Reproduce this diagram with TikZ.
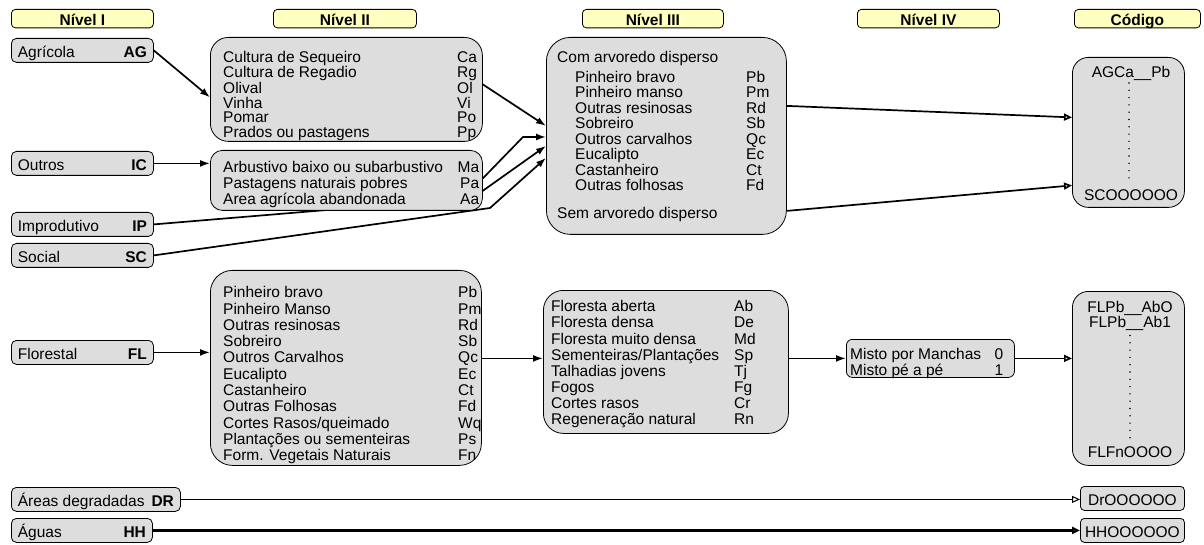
\documentclass[tikz,border=0pt]{standalone}
\usepackage{fontspec}
\setmainfont{Liberation Sans}
\usetikzlibrary{arrows.meta,calc,backgrounds}

\definecolor{hdrfill}{RGB}{255,255,192}
\definecolor{boxfill}{RGB}{221,221,221}

\newcommand\basefont{\fontsize{15.5pt}{15.5pt}\selectfont}
\newdimen\lnamew
\newdimen\lpitch
\newdimen\lcodew
% one line of a list: name in a fixed-width slot, code after it
\newcommand\rowl[2]{\hbox{\vrule width0pt height12pt depth\dimexpr\lpitch-12pt\relax\hbox to\lnamew{#1\hfil}#2}}
% same, with the code right-aligned in its own slot
\newcommand\rowr[2]{\hbox{\vrule width0pt height12pt depth\dimexpr\lpitch-12pt\relax\hbox to\lnamew{#1\hfil}\hbox to\lcodew{\hfil#2}}}
\newcommand\lst[3]{\vbox{\offinterlineskip\lpitch=#1\lnamew=#2\relax #3}}

\tikzset{
  hdr/.style={draw, fill=hdrfill, rounded corners=4pt, line width=0.8pt,
    minimum height=18.5pt, inner sep=0pt, anchor=north west,
    font=\basefont\bfseries, text height=15pt, text depth=1pt},
  lvl/.style={draw, fill=boxfill, rounded corners=5pt, line width=0.8pt,
    minimum width=142pt, minimum height=24pt, inner sep=0pt, anchor=north west,
    text height=15pt, text depth=1pt},
  panel/.style={draw, fill=boxfill, line width=0.8pt, inner sep=0pt, anchor=north west},
  list/.style={inner sep=0pt, anchor=north west},
  code/.style={inner sep=0pt, anchor=base},
  feed/.style={-{Latex[length=10pt,width=7pt]}, line width=1.7pt},
  into/.style={-{Triangle[open,length=8pt,width=7pt]}, line width=1.7pt},
  dotcol/.style={line width=1.6pt, line cap=round, dash pattern=on 0pt off 7.3pt},
}

\begin{document}
\begin{tikzpicture}[x=1pt, y=-1pt, font=\basefont]
\useasboundingbox (0,0) rectangle (1204,545);

% column headers
\node[hdr, minimum width=142pt] (h1) at (11,9)   {Nível I};
\node[hdr, minimum width=143pt] (h2) at (273,9)  {Nível II};
\node[hdr, minimum width=141pt] (h3) at (582,9)  {Nível III};
\node[hdr, minimum width=142pt] (h4) at (857,9)  {Nível IV};
\node[hdr, minimum width=126pt] (h5) at (1074,9) {Código};

% level I classes
\node[lvl] (ag) at (11,38)  {\hbox to129pt{Agrícola\hfil\textbf{AG}}};
\node[lvl] (ic) at (11,151) {\hbox to129pt{Outros\hfil\textbf{IC}}};
\node[lvl] (ip) at (11,212) {\hbox to129pt{Improdutivo\hfil\textbf{IP}}};
\node[lvl] (sc) at (11,243) {\hbox to129pt{Social\hfil\textbf{SC}}};
\node[lvl] (fl) at (11,340) {\hbox to129pt{Florestal\hfil\textbf{FL}}};
\node[lvl, minimum width=169pt] (dr) at (11,487) {\hbox to156pt{Áreas degradadas\hfil\textbf{DR}}};
\node[lvl, minimum width=141pt] (hh) at (11,518) {\hbox to128pt{Águas\hfil\textbf{HH}}};

% level II panels
\node[panel, rounded corners=18pt, minimum width=272pt, minimum height=104pt] (n2a) at (210,37) {};
\node[list] (n2a-l) at (223,50.5) {\lst{14.9pt}{234pt}{%
  \rowl{Cultura de Sequeiro}{Ca}
  \rowl{Cultura de Regadio}{Rg}
  \rowl{Olival}{Ol}
  \rowl{Vinha}{Vi}
  \rowl{Pomar}{Po}
  \rowl{Prados ou pastagens}{Pp}}};

\node[panel, rounded corners=12pt, minimum width=272pt, minimum height=60pt] (n2b) at (210,150) {};
\node[list] (n2b-l) at (223,160) {\lst{16pt}{234pt}{\lcodew=22pt
  \rowr{Arbustivo baixo ou subarbustivo}{Ma}
  \rowr{Pastagens naturais pobres}{Pa}
  \rowr{Area agrícola abandonada}{Aa}}};

\node[panel, rounded corners=22pt, minimum width=271pt, minimum height=195pt] (n2c) at (210,270) {};
\node[list] (n2c-l) at (223,285.5) {\lst{16.3pt}{235pt}{%
  \rowl{Pinheiro bravo}{Pb}
  \rowl{Pinheiro Manso}{Pm}
  \rowl{Outras resinosas}{Rd}
  \rowl{Sobreiro}{Sb}
  \rowl{Outros Carvalhos}{Qc}
  \rowl{Eucalipto}{Ec}
  \rowl{Castanheiro}{Ct}
  \rowl{Outras Folhosas}{Fd}
  \rowl{Cortes Rasos/queimado}{Wq}
  \rowl{Plantações ou sementeiras}{Ps}
  \rowl{Form. Vegetais Naturais}{Fn}}};

% level III panels
\node[panel, rounded corners=24pt, minimum width=240pt, minimum height=197pt] (n3a) at (546,37) {};
\node[list] (n3a-l) at (557,50.5) {\lst{15.47pt}{189pt}{%
  \rowl{Com arvoredo disperso}{}\vskip4.3pt
  \rowl{\hspace*{18pt}Pinheiro bravo}{Pb}
  \rowl{\hspace*{18pt}Pinheiro manso}{Pm}
  \rowl{\hspace*{18pt}Outras resinosas}{Rd}
  \rowl{\hspace*{18pt}Sobreiro}{Sb}
  \rowl{\hspace*{18pt}Outros carvalhos}{Qc}
  \rowl{\hspace*{18pt}Eucalipto}{Ec}
  \rowl{\hspace*{18pt}Castanheiro}{Ct}
  \rowl{\hspace*{18pt}Outras folhosas}{Fd}\vskip12.3pt
  \rowl{Sem arvoredo disperso}{}}};

\node[panel, rounded corners=20pt, minimum width=245pt, minimum height=143pt] (n3b) at (543,290) {};
\node[list] (n3b-l) at (551,299.5) {\lst{16.15pt}{183pt}{%
  \rowl{Floresta aberta}{Ab}
  \rowl{Floresta densa}{De}
  \rowl{Floresta muito densa}{Md}
  \rowl{Sementeiras/Plantações}{Sp}
  \rowl{Talhadias jovens}{Tj}
  \rowl{Fogos}{Fg}
  \rowl{Cortes rasos}{Cr}
  \rowl{Regeneração natural}{Rn}}};

% level IV panel
\node[panel, rounded corners=6pt, minimum width=168pt, minimum height=38pt] (n4) at (846,339) {};
\node[list] (n4-l) at (850,347.5) {\lst{15.5pt}{140pt}{\lcodew=13pt
  \rowr{Misto por Manchas}{0}
  \rowr{Misto pé a pé}{1}}};

% code panels
\node[panel, rounded corners=16pt, minimum width=112pt, minimum height=150pt] (c1) at (1072,57) {};
\node[code] (c1top) at (1131,77.5)  {AGCa\_\_Pb};
\node[code] (c1bot) at (1131,200.5) {SCOOOOOO};
\draw[dotcol] ([shift={(-2pt,-5.5pt)}]c1top.base) -- ([shift={(-2pt,15.5pt)}]c1bot.base);

\node[panel, rounded corners=16pt, minimum width=112pt, minimum height=174pt] (c2) at (1072,291) {};
\node[code] (c2a) at (1130,312)   {FLPb\_\_AbO};
\node[code] (c2b) at (1130,327.5) {FLPb\_\_Ab1};
\node[code] (c2c) at (1130,457)   {FLFnOOOO};
\draw[dotcol] ([shift={(0pt,-8pt)}]c2b.base) -- ([shift={(0pt,15pt)}]c2c.base);

\node[panel, rounded corners=4pt, minimum width=104pt, minimum height=24pt,
      text height=15pt, text depth=1pt] (cdr) at (1080,486) {DrOOOOOO};
\node[panel, rounded corners=4pt, minimum width=104pt, minimum height=24pt,
      text height=15pt, text depth=1pt] (chh) at (1080,518) {HHOOOOOO};

% connectors
\coordinate (kb)   at (523,137);
\coordinate (kip1) at (375,206);
\coordinate (kip2) at (460,207);
\coordinate (ksc)  at (490,208);
\coordinate (n3bin) at ([yshift=3.5pt]n3b.west);

% page ground, and the two lines that run behind the shrub panel
\begin{pgfonlayer}{background}
  \fill[white] (0,0) rectangle (1204,545);
  \draw[feed] (ip.east) -- (kip1) -- (kip2) -- ([yshift=-10pt]n3a.west);
  \draw[feed] (sc.east) -- (ksc) -- ([yshift=-22pt]n3a.west);
\end{pgfonlayer}

\draw[feed] (ag.east) -- ([yshift=-8pt]n2a.west);
\draw[feed] (ic.east) -- (ic.east -| n2b.west);
\draw[feed] ([yshift=5pt]n2a.east) -- ([yshift=10pt]n3a.west);
\draw[feed] ([yshift=2pt]n2b.east) -- (kb) -- (kb -| n3a.west);

\draw[into] ([yshift=30pt]n3a.east) -- ([yshift=15pt]c1.west);
\draw[into] ([yshift=-75pt]n3a.east) -- ([yshift=-53pt]c1.west);

\draw[feed] (fl.east) -- (fl.east -| n2c.west);
\draw[feed] (n2c.east |- n3bin) -- (n3bin);
\draw[feed] (n3b.east |- n4.west) -- (n4.west);
\draw[into] (n4.east) -- (n4.east -| c2.west);

\draw[into, line width=1pt] (dr.east) -- (dr.east -| cdr.west);
\draw[into, line width=2.5pt] (hh.east) -- (hh.east -| chh.west);
\end{tikzpicture}
\end{document}
